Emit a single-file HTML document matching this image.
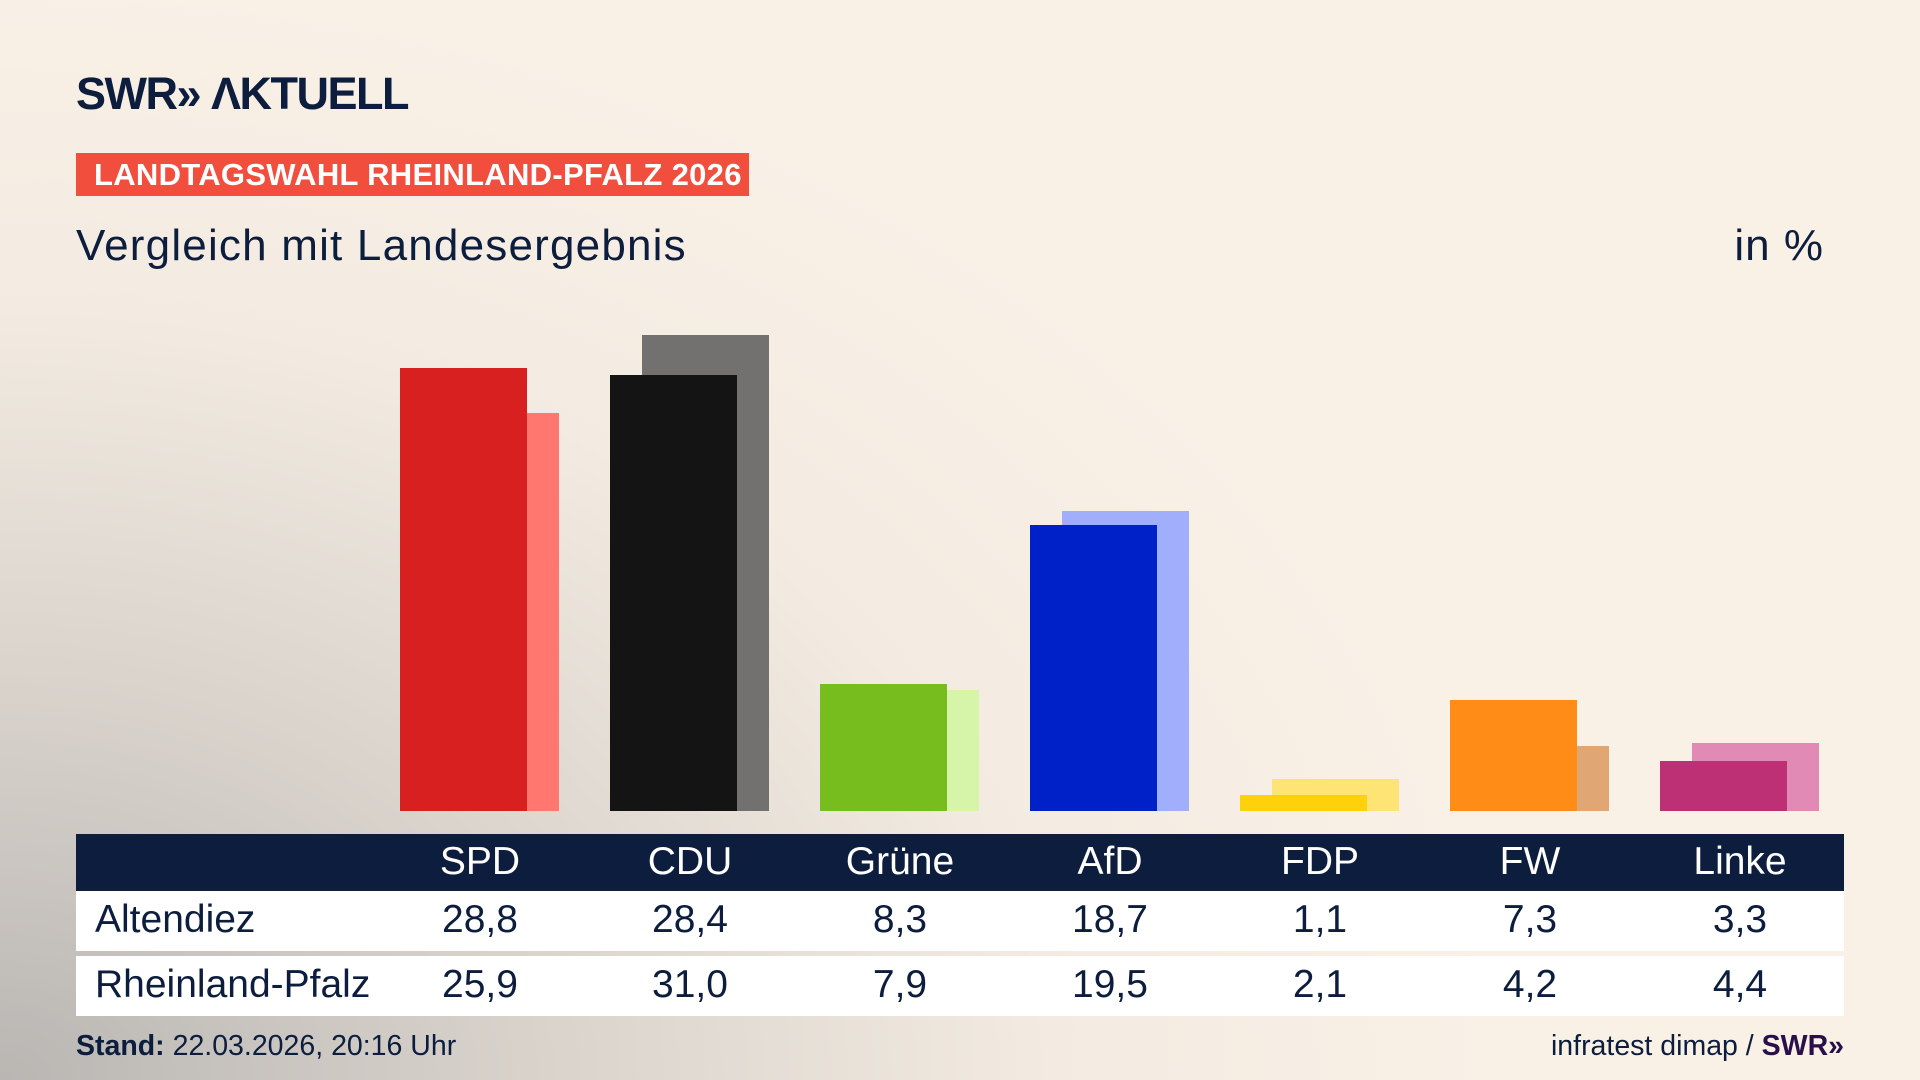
<!DOCTYPE html>
<html><head><meta charset="utf-8"><style>
*{margin:0;padding:0;box-sizing:border-box}
body{width:1920px;height:1080px;overflow:hidden;position:relative;font-family:"Liberation Sans",sans-serif;color:#0c1d3d;
background:radial-gradient(ellipse 1500px 1100px at 0% 100%, #b9b6b3 0%, #d8d2cb 35%, #f3ebe1 70%, #f9f1e6 100%);}
.a{position:absolute}
.logo{left:76px;top:68px;font-size:45px;font-weight:bold;letter-spacing:-1.5px;color:#0c1d3d}
.banner{left:76px;top:153px;width:673px;height:43px;background:#f24e3e;color:#fff;font-weight:bold;font-size:31px;line-height:43px;padding-left:18px;letter-spacing:0.3px}
.sub{left:76px;top:221px;font-size:44px;letter-spacing:1.2px}
.unit{right:96px;top:221px;font-size:44px;letter-spacing:1px}
.bar{position:absolute;width:127px}
.hdr{left:76px;top:834px;width:1768px;height:57px;background:#0c1d3d}
.row{left:76px;width:1768px;height:60px;background:#fff}
.t{position:absolute;width:200px;text-align:center;font-size:39px}
.lab{position:absolute;left:95px;font-size:39px}
</style></head><body>
<div class="a logo">SWR» ΛKTUELL</div>
<div class="a banner">LANDTAGSWAHL RHEINLAND-PFALZ 2026</div>
<div class="a sub">Vergleich mit Landesergebnis</div>
<div class="a unit">in %</div>

<div class="bar" style="left:432px;top:413px;height:398px;background:#ff776f"></div>
<div class="bar" style="left:642px;top:335px;height:476px;background:#737170"></div>
<div class="bar" style="left:852px;top:690px;height:121px;background:#d6f5a8"></div>
<div class="bar" style="left:1062px;top:511px;height:300px;background:#a0aefb"></div>
<div class="bar" style="left:1272px;top:779px;height:32px;background:#fde474"></div>
<div class="bar" style="left:1482px;top:746px;height:65px;background:#e0a673"></div>
<div class="bar" style="left:1692px;top:743px;height:68px;background:#e08ab5"></div>
<div class="bar" style="left:400px;top:368px;height:443px;background:#d82020"></div>
<div class="bar" style="left:610px;top:375px;height:436px;background:#141414"></div>
<div class="bar" style="left:820px;top:684px;height:127px;background:#78bd1e"></div>
<div class="bar" style="left:1030px;top:525px;height:286px;background:#0020c8"></div>
<div class="bar" style="left:1240px;top:795px;height:16px;background:#ffd10a"></div>
<div class="bar" style="left:1450px;top:700px;height:111px;background:#ff8c17"></div>
<div class="bar" style="left:1660px;top:761px;height:50px;background:#bd3075"></div>

<div class="a hdr"></div>
<div class="a row" style="top:891px"></div>
<div class="a row" style="top:956px"></div>

<div style="position:absolute;top:840px;left:0;color:#fff">
<div class="t" style="left:380px">SPD</div><div class="t" style="left:590px">CDU</div><div class="t" style="left:800px">Grüne</div><div class="t" style="left:1010px">AfD</div><div class="t" style="left:1220px">FDP</div><div class="t" style="left:1430px">FW</div><div class="t" style="left:1640px">Linke</div>
</div>
<div style="position:absolute;top:898px;left:0;width:1920px">
<div class="lab">Altendiez</div>
<div class="t" style="left:380px">28,8</div><div class="t" style="left:590px">28,4</div><div class="t" style="left:800px">8,3</div><div class="t" style="left:1010px">18,7</div><div class="t" style="left:1220px">1,1</div><div class="t" style="left:1430px">7,3</div><div class="t" style="left:1640px">3,3</div>
</div>
<div style="position:absolute;top:963px;left:0;width:1920px">
<div class="lab">Rheinland-Pfalz</div>
<div class="t" style="left:380px">25,9</div><div class="t" style="left:590px">31,0</div><div class="t" style="left:800px">7,9</div><div class="t" style="left:1010px">19,5</div><div class="t" style="left:1220px">2,1</div><div class="t" style="left:1430px">4,2</div><div class="t" style="left:1640px">4,4</div>
</div>

<div class="a" style="left:76px;top:1030px;font-size:28.5px"><b>Stand:</b> 22.03.2026, 20:16 Uhr</div>
<div class="a" style="right:76px;top:1030px;font-size:28.5px">infratest dimap / <b style="color:#2a0f4a">SWR»</b></div>
</body></html>
